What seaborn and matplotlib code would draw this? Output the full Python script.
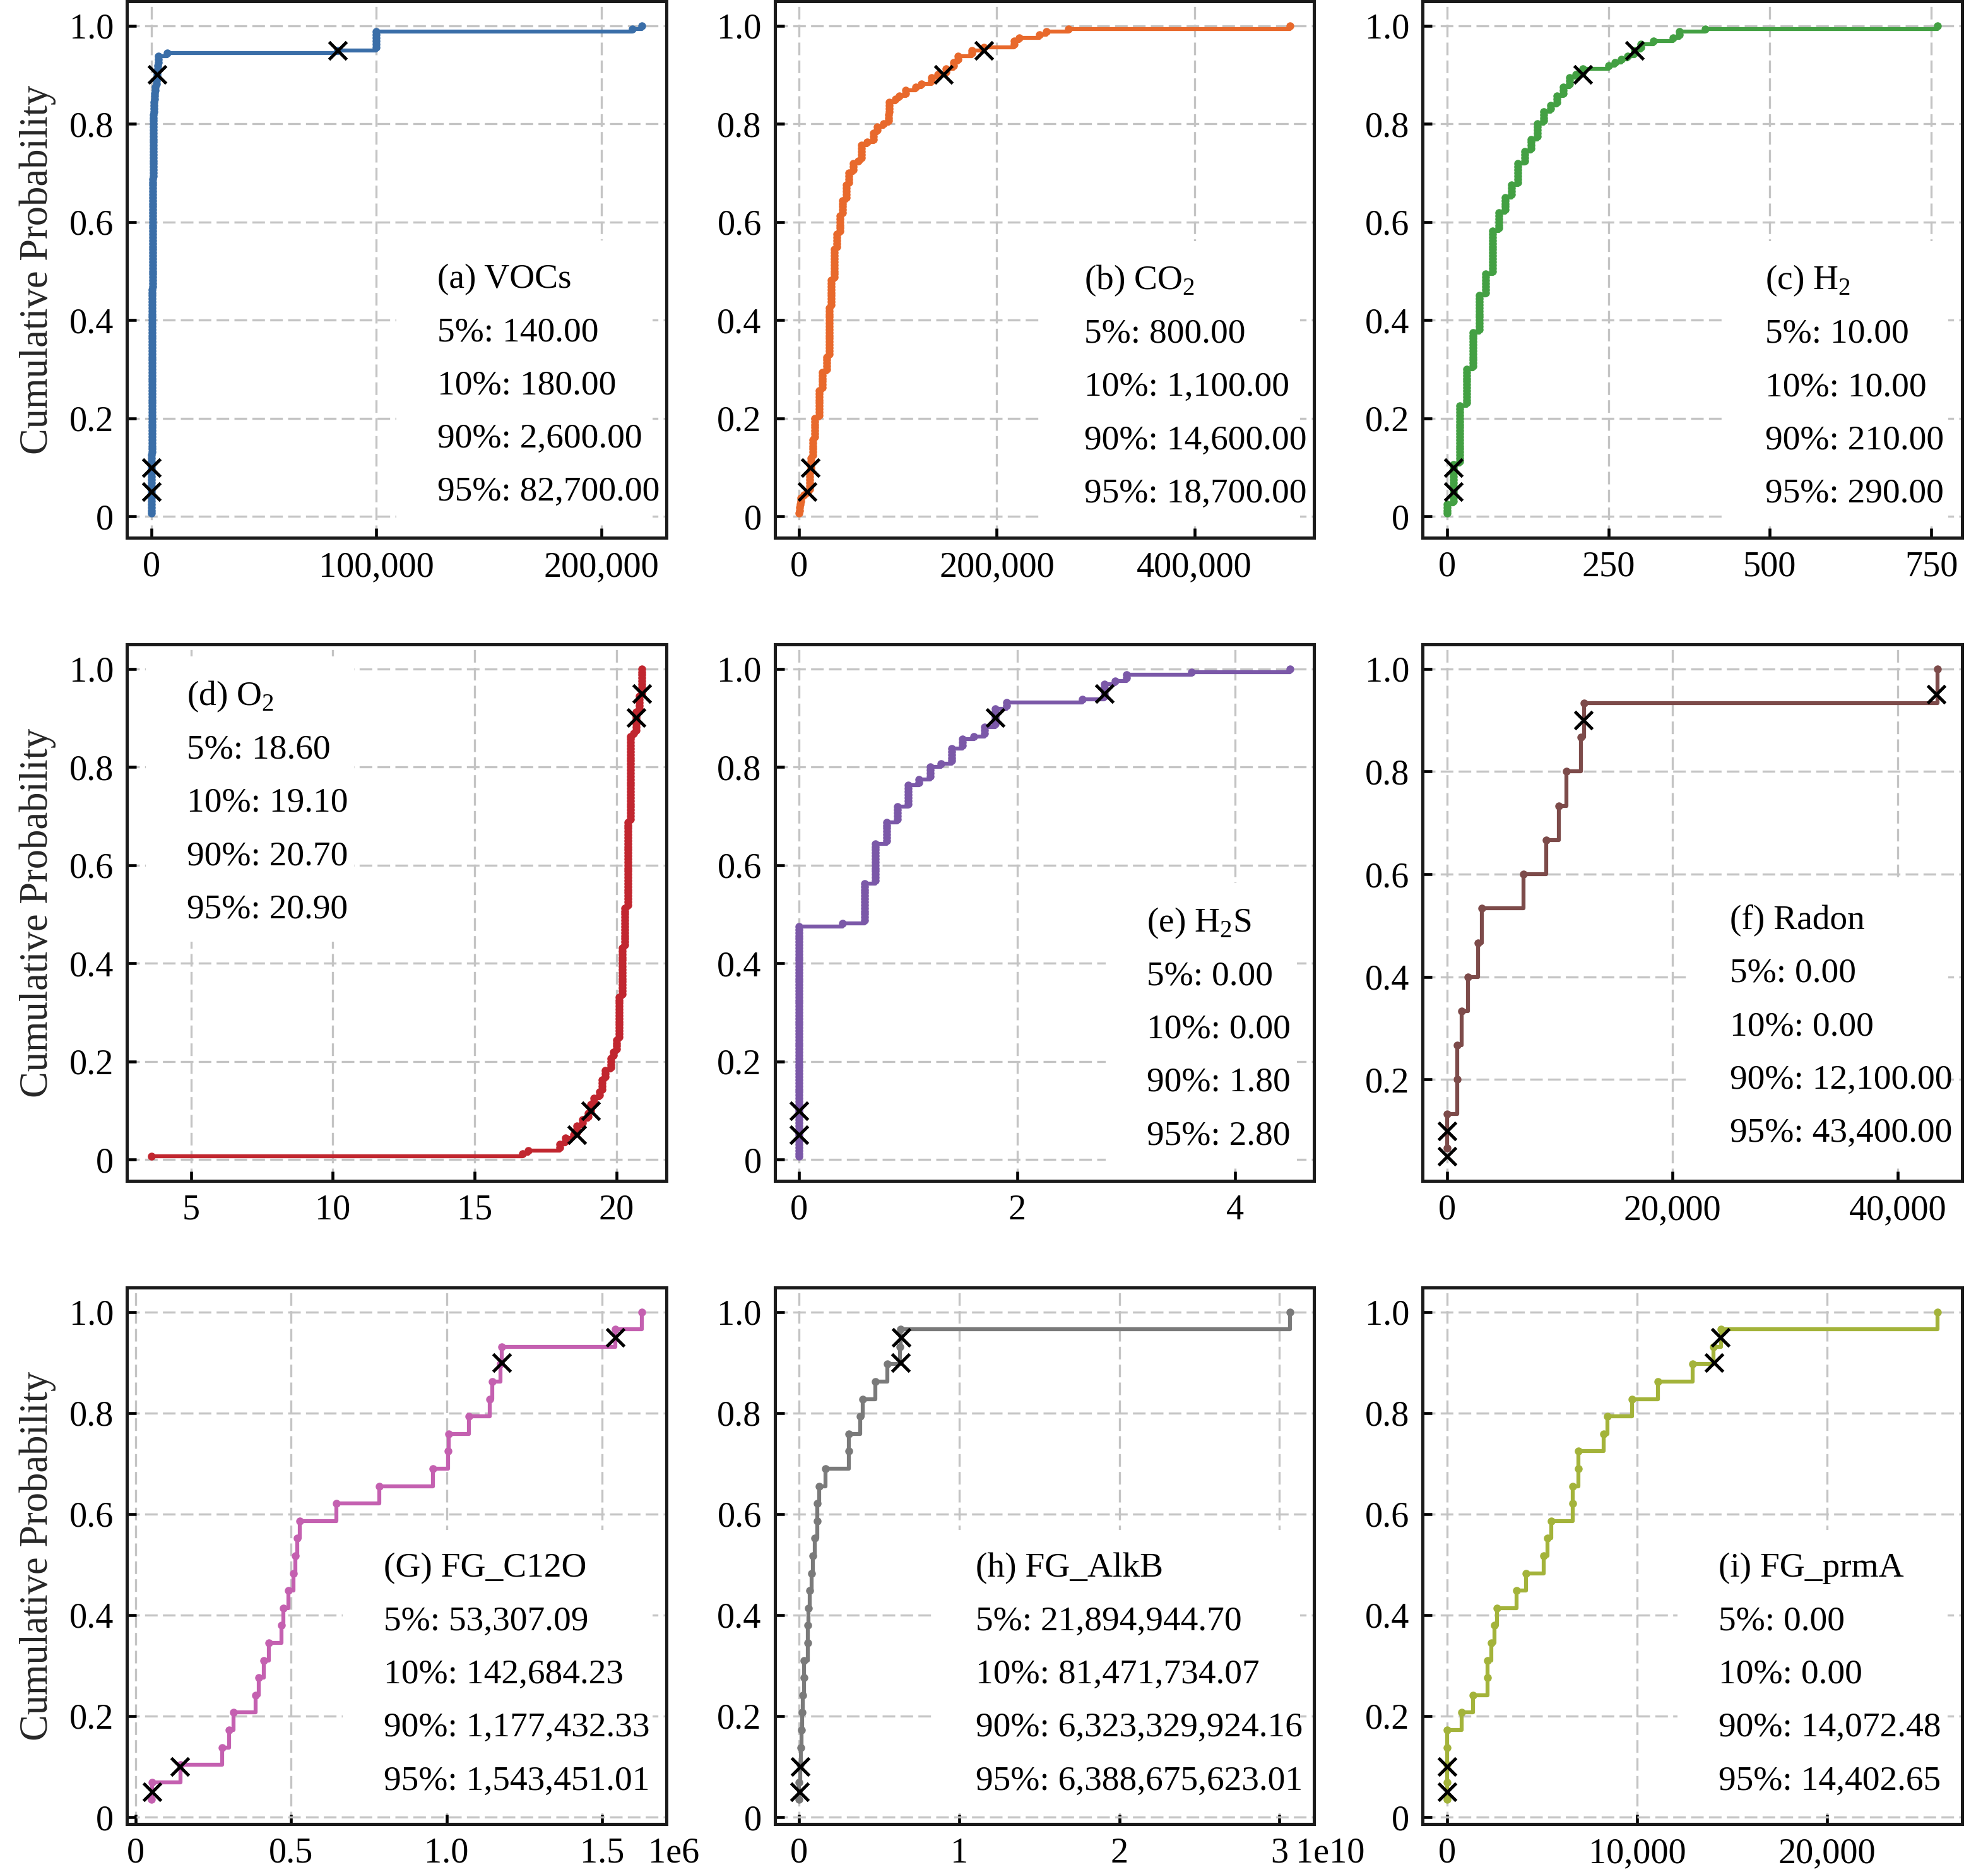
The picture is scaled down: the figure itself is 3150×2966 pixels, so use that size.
import numpy as np
import seaborn as sns
import matplotlib.pyplot as plt
from matplotlib.patches import Rectangle
from matplotlib.ticker import FuncFormatter, MultipleLocator
from matplotlib.transforms import Bbox

# sample values (sorted) and how many samples share each value
voc_vals = [20, 60, 100, 140, 160, 180, 200, 230, 260, 300, 330, 360, 400, 450, 500, 560, 620, 700,
            800, 900, 1000, 1200, 1400, 1800, 2200, 2600, 2800, 3100, 7000, 82700, 99800, 100000,
            213700, 218000]
voc_counts = [1, 2, 2, 3, 4, 4, 4, 6, 6, 6, 8, 8, 10, 10, 10, 10, 8, 8, 8, 8, 5, 4, 3, 2, 2, 3, 2, 3,
              1, 1, 3, 3, 1, 1]
voc_pct = [140, 180, 2600, 82700]

co2_vals = [0, 600, 1000, 1600, 5000, 9000, 10500, 11800, 13800, 15900, 20000, 23200, 28100, 30100,
            32200, 35400, 38300, 41100, 43600, 47700, 50500, 54600, 59900, 62700, 68800, 74900, 79000,
            85100, 90400, 91200, 97400, 101400, 107500, 117700, 123800, 134000, 140000, 148300,
            156400, 160500, 174700, 187000, 217500, 222800, 243200, 250100, 272500, 496500]
co2_counts = [1, 2, 1, 2, 1, 1, 6, 5, 6, 7, 9, 6, 5, 16, 9, 10, 5, 6, 5, 5, 4, 3, 1, 5, 1, 3, 2, 1, 3,
              4, 1, 1, 2, 1, 1, 2, 1, 2, 2, 2, 2, 1, 2, 1, 1, 1, 1, 1]
co2_pct = [800, 1100, 14600, 18700]
co2_marks = [8000, 11000, 146000, 187000]

h2_vals = [0, 10, 20, 30, 40, 50, 60, 70, 80, 90, 100, 110, 120, 130, 140, 150, 160, 170, 180, 190,
           200, 210, 250, 260, 270, 280, 290, 300, 320, 350, 360, 400, 760]
h2_counts = [4, 13, 19, 12, 12, 12, 7, 14, 6, 5, 4, 7, 4, 4, 5, 4, 2, 3, 3, 3, 1, 2, 1, 1, 1, 1, 2, 2,
             1, 1, 2, 1, 1]
h2_pct = [10, 10, 210, 290]

o2_vals = [3.6, 16.7, 16.9, 18.0, 18.2, 18.5, 18.6, 18.8, 19.0, 19.1, 19.2, 19.4, 19.5, 19.6, 19.8,
           19.9, 20.0, 20.1, 20.2, 20.3, 20.4, 20.5, 20.6, 20.7, 20.8, 20.9]
o2_counts = [1, 1, 1, 2, 2, 1, 3, 2, 2, 3, 2, 2, 4, 3, 4, 2, 4, 14, 16, 13, 28, 28, 1, 7, 5, 9]
o2_pct = [18.6, 19.1, 20.7, 20.9]

h2s_vals = [0, 0.4, 0.6, 0.7, 0.8, 0.9, 1.0, 1.1, 1.2, 1.3, 1.4, 1.5, 1.6, 1.7, 1.8, 1.9, 2.6, 2.8,
            2.9, 3.0, 3.6, 4.5]
h2s_counts = [76, 1, 13, 13, 7, 5, 7, 2, 4, 1, 5, 3, 1, 3, 6, 2, 1, 5, 1, 2, 1, 1]
h2s_pct = [0, 0, 1.8, 2.8]

radon_vals = [0, 0, 900, 900, 1270, 1830, 2730, 3100, 6770, 8790, 9910, 10580, 11850, 12150, 43510]
radon_pct = [0, 0, 12100, 43400]

c12o_vals = [51000, 54000, 145000, 278000, 301000, 315000, 386000, 396000, 413000, 429000, 469000,
             476000, 491000, 507000, 513000, 521000, 528000, 645000, 783000, 956000, 1004000,
             1007000, 1071000, 1139000, 1146000, 1173000, 1178000, 1543000, 1628000]
c12o_pct = [53307.09, 142684.23, 1177432.33, 1543451.01]

alkb_vals = [0, 0, 5.5e7, 8.8e7, 1.6e8, 1.8e8, 2.4e8, 2.9e8, 2.9e8, 5.3e8, 5.5e8, 5.8e8, 6.6e8,
             7.6e8, 8.4e8, 9.7e8, 1.13e9, 1.13e9, 1.26e9, 1.66e9, 3.08e9, 3.08e9, 3.79e9, 3.95e9,
             4.77e9, 5.51e9, 6.30e9, 6.35e9, 3.064e10]
alkb_pct = [21894944.70, 81471734.07, 6323329924.16, 6388675623.01]

prma_vals = [0, 0, 0, 0, 0, 750, 1370, 2130, 2130, 2330, 2480, 2620, 3660, 4150, 5080, 5300, 5480,
             6630, 6630, 6920, 6920, 8250, 8430, 9730, 11090, 12930, 14040, 14410, 25830]
prma_pct = [0, 0, 14072.48, 14402.65]

pct_levels = [0.05, 0.10, 0.90, 0.95]
pct_names = ['5%', '10%', '90%', '95%']

panels = [
    dict(title='(a) VOCs', vals=voc_vals, counts=voc_counts, pct=voc_pct, marks=voc_pct,
         color='#3a6ea8', step=100000, scale=1, dec=0, off=None, tx=0.575, ty=0.466),
    dict(title='(b) CO$_\\mathrm{2}$', vals=co2_vals, counts=co2_counts, pct=co2_pct, marks=co2_marks,
         color='#e8692c', step=200000, scale=1, dec=0, off=None, tx=0.574, ty=0.463),
    dict(title='(c) H$_\\mathrm{2}$', vals=h2_vals, counts=h2_counts, pct=h2_pct, marks=h2_pct,
         color='#43a043', step=250, scale=1, dec=0, off=None, tx=0.635, ty=0.463),
    dict(title='(d) O$_\\mathrm{2}$', vals=o2_vals, counts=o2_counts, pct=o2_pct, marks=o2_pct,
         color='#c1262f', step=5, scale=1, dec=0, off=None, tx=0.111, ty=0.887),
    dict(title='(e) H$_\\mathrm{2}$S', vals=h2s_vals, counts=h2s_counts, pct=h2s_pct, marks=h2s_pct,
         color='#7b58a8', step=2, scale=1, dec=0, off=None, tx=0.690, ty=0.465),
    dict(title='(f) Radon', vals=radon_vals, counts=None, pct=radon_pct, marks=radon_pct,
         color='#7d4b4a', step=20000, scale=1, dec=0, off=None, tx=0.570, ty=0.470),
    dict(title='(G) FG_C12O', vals=c12o_vals, counts=None, pct=c12o_pct, marks=c12o_pct,
         color='#c460b0', step=0.5e6, scale=1e6, dec=1, off='1e6', tx=0.476, ty=0.461),
    dict(title='(h) FG_AlkB', vals=alkb_vals, counts=None, pct=alkb_pct, marks=alkb_pct,
         color='#7a7a7a', step=1e10, scale=1e10, dec=0, off='1e10', tx=0.372, ty=0.461),
    dict(title='(i) FG_prmA', vals=prma_vals, counts=None, pct=prma_pct, marks=prma_pct,
         color='#a3b33a', step=10000, scale=1, dec=0, off=None, tx=0.549, ty=0.461),
]

sns.set_theme(style='ticks')
plt.rcParams['font.family'] = ['Liberation Serif', 'DejaVu Serif']
plt.rcParams['mathtext.fontset'] = 'custom'
plt.rcParams['mathtext.rm'] = 'Liberation Serif'
plt.rcParams['axes.edgecolor'] = 'black'
plt.rcParams['text.color'] = 'black'
plt.rcParams['xtick.color'] = 'black'
plt.rcParams['ytick.color'] = 'black'

TXT = 13.3
LINE_GAP = 0.0992


def make_fmt(scale, dec):
    def f(v, pos):
        if abs(v) < 1e-12 * max(scale, 1):
            return '0'
        return f'{v / scale:,.{dec}f}'
    return FuncFormatter(f)


fig, axes = plt.subplots(3, 3, figsize=(10.5, 9.8867), dpi=300)
fig.subplots_adjust(left=0.0638, right=0.987, bottom=0.0256, top=0.9993,
                    wspace=0.2007, hspace=0.1988)

text_groups = []
for k, (ax, p) in enumerate(zip(axes.flat, panels)):
    counts = p['counts'] if p['counts'] is not None else np.ones(len(p['vals']), dtype=int)
    xs = np.repeat(np.array(p['vals'], dtype=float), counts)
    ys = np.arange(1, len(xs) + 1) / len(xs)

    sns.lineplot(x=xs, y=ys, ax=ax, estimator=None, sort=False, drawstyle='steps-post',
                 color=p['color'], linewidth=1.5, marker='o', markersize=3.0,
                 markeredgecolor=p['color'], markeredgewidth=0, zorder=3)
    ax.plot(p['marks'], pct_levels, linestyle='none', marker='x', color='black',
            markersize=6.5, markeredgewidth=1.2, zorder=4)

    ax.grid(True, linestyle=(0, (6, 2.5)), linewidth=0.8, color='#c4c4c4')
    ax.set_axisbelow(True)
    ax.xaxis.set_major_locator(MultipleLocator(p['step']))
    ax.yaxis.set_major_locator(MultipleLocator(0.2))
    ax.xaxis.set_major_formatter(make_fmt(p['scale'], p['dec']))
    ax.yaxis.set_major_formatter(make_fmt(1, 1))
    ax.tick_params(direction='in', length=3.5, width=1.1, pad=5, labelsize=13.5,
                   top=False, right=False)
    for s in ax.spines.values():
        s.set_linewidth(1.2)
        s.set_color('#1a1a1a')

    if k % 3 == 0:
        ax.set_ylabel('Cumulative Probability', fontsize=15, labelpad=5)
    else:
        ax.set_ylabel('')

    if p['off']:
        ax.annotate(p['off'], xy=(1, 0), xycoords='axes fraction', xytext=(-7, -5),
                    textcoords='offset points', ha='left', va='top', fontsize=13.5)

    lines = [p['title']] + [f'{n}: {v:,.2f}' for n, v in zip(pct_names, p['pct'])]
    texts = []
    for i, line in enumerate(lines):
        t = ax.text(p['tx'], p['ty'] - i * LINE_GAP, line, transform=ax.transAxes,
                    fontsize=TXT, ha='left', va='baseline', zorder=6)
        texts.append(t)
    text_groups.append(texts)

# white box behind the annotation block
fig.canvas.draw()
renderer = fig.canvas.get_renderer()
for ax, texts in zip(axes.flat, text_groups):
    ax.set_xlim(ax.get_xlim())
    ax.set_ylim(ax.get_ylim())
    bb = Bbox.union([t.get_window_extent(renderer) for t in texts])
    axbb = ax.get_window_extent(renderer)
    x0 = bb.x0 - 65
    x1 = min(bb.x1 + 10, axbb.x1 - 22)
    y0 = bb.y0 - 26
    y1 = bb.y1 + 36
    inv = ax.transAxes.inverted()
    (ax0, ay0), (ax1, ay1) = inv.transform([(x0, y0), (x1, y1)])
    ax.add_patch(Rectangle((ax0, ay0), ax1 - ax0, ay1 - ay0, transform=ax.transAxes,
                           facecolor='white', edgecolor='none', zorder=1.5))

fig.savefig('out.png', dpi=300)
